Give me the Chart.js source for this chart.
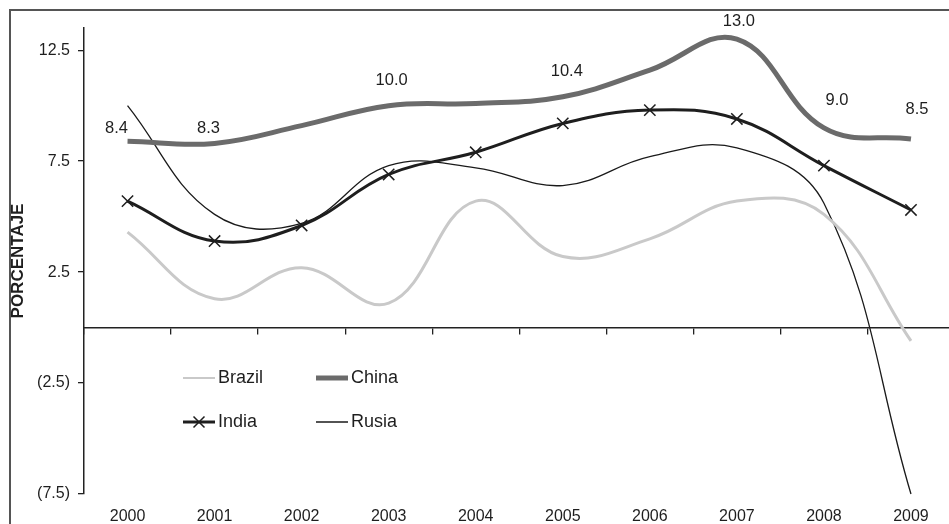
<!DOCTYPE html>
<html>
<head>
<meta charset="utf-8">
<script src="https://cdn.jsdelivr.net/npm/chart.js@4.4.0/dist/chart.umd.min.js"></script>
<style>
  html, body { margin: 0; padding: 0; background: #fff; overflow: hidden; width: 949px; height: 524px; }
  #c { position: absolute; left: 0; top: 0; }
  #frame { position: absolute; left: 9px; top: 9px; width: 2000px; height: 2000px;
           border-left: 2px solid #555; border-top: 2px solid #555; pointer-events: none; }
</style>
</head>
<body>
<canvas id="c" width="964" height="524" style="width:964px;height:524px"></canvas>
<div id="frame"></div>
<script>
const years = ['2000','2001','2002','2003','2004','2005','2006','2007','2008','2009'];
const brazil = [4.3, 1.3, 2.7, 1.1, 5.7, 3.2, 4.0, 5.7, 5.1, -0.6];
const china  = [8.4, 8.3, 9.1, 10.0, 10.1, 10.4, 11.6, 13.0, 9.0, 8.5];
const india  = [5.7, 3.9, 4.6, 6.9, 7.9, 9.2, 9.8, 9.4, 7.3, 5.3];
const russia = [10.0, 5.1, 4.7, 7.3, 7.2, 6.4, 7.7, 8.1, 5.6, -7.5];
const chinaLabels = ['8.4', '8.3', '', '10.0', '', '10.4', '', '13.0', '9.0', '8.5'];
const yTicks = [-7.5, -2.5, 2.5, 7.5, 12.5];

// label placement (style only)
const chinaLabelOffsets = [[-11,-13],[-6,-15],[0,-24],[3,-25],[0,-24],[4,-25],[0,-24],[2,-18],[13,-27],[6,-29]];

const FONT = 'Liberation Sans, Arial, Helvetica, sans-serif';
const TEXT = '#1e1e1e';

const chinaLabelPlugin = {
  id: 'chinaLabels',
  afterDatasetsDraw(chart) {
    const meta = chart.getDatasetMeta(1);
    const ctx = chart.ctx;
    ctx.save();
    ctx.font = '16.5px ' + FONT;
    ctx.fillStyle = TEXT;
    ctx.textAlign = 'center';
    ctx.textBaseline = 'middle';
    meta.data.forEach((pt, i) => {
      const t = chinaLabels[i];
      if (!t) return;
      const o = chinaLabelOffsets[i];
      ctx.fillText(t, pt.x + o[0], pt.y + o[1]);
    });
    ctx.restore();
  }
};

const legendPlugin = {
  id: 'innerLegend',
  afterDraw(chart) {
    const ctx = chart.ctx;
    const a = chart.chartArea;
    const cols = [a.left + 99, a.left + 232];
    const rows = [a.top + 350, a.top + 394];
    const lineLen = 32;
    ctx.save();
    ctx.font = '18px ' + FONT;
    ctx.textAlign = 'left';
    ctx.textBaseline = 'middle';
    chart.data.datasets.forEach((ds, i) => {
      const x = cols[i % 2];
      const y = rows[Math.floor(i / 2)];
      const lw = ds.legendLineWidth || ds.borderWidth;
      ctx.strokeStyle = ds.borderColor;
      ctx.lineWidth = lw;
      ctx.beginPath();
      ctx.moveTo(x, y);
      ctx.lineTo(x + lineLen, y);
      ctx.stroke();
      if (ds.pointStyle === 'crossRot') {
        const cx = x + lineLen / 2, r = 5.5;
        ctx.lineWidth = 1.5;
        ctx.beginPath();
        ctx.moveTo(cx - r, y - r); ctx.lineTo(cx + r, y + r);
        ctx.moveTo(cx - r, y + r); ctx.lineTo(cx + r, y - r);
        ctx.stroke();
      }
      ctx.fillStyle = TEXT;
      ctx.fillText(ds.label, x + lineLen + 3, y);
    });
    ctx.restore();
  }
};

new Chart(document.getElementById('c'), {
  type: 'line',
  data: {
    labels: years,
    datasets: [
      { label: 'Brazil', data: brazil, borderColor: '#c9c9c9', borderWidth: 3, legendLineWidth: 2,
        pointRadius: 0, tension: 0.4, clip: false },
      { label: 'China', data: china, borderColor: '#6b6b6b', borderWidth: 5,
        pointRadius: 0, tension: 0.4, clip: false },
      { label: 'India', data: india, borderColor: '#1e1e1e', borderWidth: 3,
        pointStyle: 'crossRot', pointRadius: 8, pointBorderWidth: 1.5, pointBorderColor: '#1e1e1e',
        pointBackgroundColor: 'transparent', tension: 0.4, clip: false },
      { label: 'Rusia', data: russia, borderColor: '#1a1a1a', borderWidth: 1.3, legendLineWidth: 1.5,
        pointRadius: 0, tension: 0.4, clip: false }
    ]
  },
  options: {
    responsive: false,
    maintainAspectRatio: false,
    animation: false,
    devicePixelRatio: 1,
    layout: { padding: { top: 28, left: 0, right: 0, bottom: 0 } },
    plugins: { legend: { display: false }, tooltip: { enabled: false } },
    scales: {
      x: {
        type: 'category', labels: years, offset: true, position: 'bottom',
        grid: { display: false, drawTicks: false },
        border: { display: false },
        ticks: { color: TEXT, font: { family: FONT, size: 16 }, padding: 13, maxRotation: 0 },
        afterFit: s => { s.height = 30; }
      },
      x2: {
        type: 'category', labels: years, offset: true, position: { y: 0 },
        grid: { display: true, offset: true, drawOnChartArea: false, drawTicks: true, tickLength: 6,
                color: '#222', lineWidth: 1.3 },
        border: { display: true, color: '#222', width: 1.5 },
        ticks: { display: false }
      },
      y: {
        min: -7.5, max: 13.5,
        afterBuildTicks: s => { s.ticks = yTicks.map(v => ({ value: v })); },
        grid: { drawOnChartArea: false, drawTicks: true, tickLength: 6, color: '#222', lineWidth: 1.3 },
        border: { display: true, color: '#222', width: 1.5 },
        ticks: {
          color: TEXT, font: { family: FONT, size: 16 }, padding: 8,
          callback: v => v < 0 ? '(' + Math.abs(v).toFixed(1) + ')' : Number(v).toFixed(1)
        },
        title: { display: true, text: 'PORCENTAJE', color: TEXT,
                 font: { family: FONT, size: 17, weight: 'bold' }, padding: { top: 8, bottom: 0 } },
        afterFit: s => { s.width = 84; }
      }
    }
  },
  plugins: [chinaLabelPlugin, legendPlugin]
});
</script>
</body>
</html>
